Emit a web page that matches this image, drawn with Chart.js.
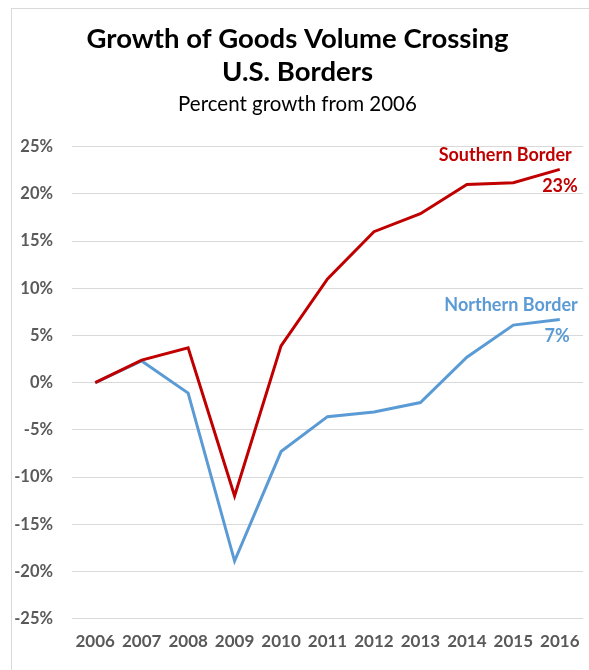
<!DOCTYPE html>
<html>
<head>
<meta charset="utf-8">
<script src="https://cdn.jsdelivr.net/npm/chart.js@4"></script>
<style>
  html, body { margin: 0; padding: 0; background: #fff; }
  #wrap { position: relative; width: 589px; height: 670px; overflow: hidden; }
  #frame { position: absolute; left: 11px; top: 8px; width: 700px; height: 800px; border: 1px solid #d9d9d9; }
  #popChart { position: absolute; left: 0; top: 0; }
</style>
</head>
<body>
<div id="wrap">
  <div id="frame"></div>
  <canvas id="popChart" width="589" height="670"></canvas>
</div>
<script>
// datos
var years = ["2006", "2007", "2008", "2009", "2010", "2011", "2012", "2013", "2014", "2015", "2016"];
var southern = [0, 2.4, 3.7, -12.0, 3.9, 11.0, 16.0, 17.9, 21.0, 21.2, 22.6];
var northern = [0, 2.3, -1.1, -18.9, -7.3, -3.6, -3.1, -2.1, 2.7, 6.1, 6.7];
var seriesNames = ["Southern Border", "Northern Border"];
var endLabels = ["23%", "7%"];
var titleLines = ["Growth of Goods Volume Crossing", "U.S. Borders"];
var subtitleText = "Percent growth from 2006";

var rojo = "#C00000";
var azul = "#5B9BD5";
var gris = "#595959";
var fuente = "Lato, 'Open Sans', sans-serif";

// etiquetas al final de cada linea
var etiquetasFinal = {
    id: "etiquetasFinal",
    afterDatasetsDraw: function (chart) {
        var ctx = chart.ctx;
        ctx.save();
        ctx.textAlign = "right";
        ctx.textBaseline = "middle";
        ctx.font = "bold 18px " + fuente;
        chart.data.datasets.forEach(function (ds, i) {
            var meta = chart.getDatasetMeta(i);
            var last = meta.data[meta.data.length - 1];
            ctx.fillStyle = ds.borderColor;
            ctx.fillText(seriesNames[i], last.x + (i === 0 ? 12 : 18), last.y - 14);
            ctx.fillText(endLabels[i], last.x + (i === 0 ? 18 : 10), last.y + 17);
        });
        ctx.restore();
    }
};

var densityCanvas = document.getElementById("popChart");
var lineChart = new Chart(densityCanvas, {
    type: 'line',
    data: {
        labels: years,
        datasets: [{
            label: seriesNames[0],
            data: southern,
            borderColor: rojo,
            backgroundColor: rojo,
            borderWidth: 3,
            pointRadius: 0,
            tension: 0
        }, {
            label: seriesNames[1],
            data: northern,
            borderColor: azul,
            backgroundColor: azul,
            borderWidth: 3,
            pointRadius: 0,
            tension: 0
        }]
    },
    options: {
        responsive: false,
        animation: false,
        layout: {
            padding: { top: 12, left: 12, right: 6, bottom: 13 }
        },
        plugins: {
            legend: { display: false },
            tooltip: { enabled: false },
            title: {
                display: true,
                text: titleLines,
                color: "#000",
                font: { family: fuente, size: 27.5, weight: 'bold', lineHeight: 1.2 },
                padding: { top: 10.5, bottom: 3.7 }
            },
            subtitle: {
                display: true,
                text: subtitleText,
                color: "#000",
                font: { family: fuente, size: 20.5, weight: 'normal', lineHeight: 1.15 },
                padding: { top: 0, bottom: 31 }
            }
        },
        scales: {
            x: {
                offset: true,
                grid: { display: false },
                border: { display: false },
                ticks: {
                    color: gris,
                    font: { family: fuente, size: 17, weight: 'bold' },
                    padding: 5,
                    maxRotation: 0,
                    autoSkip: false
                }
            },
            y: {
                min: -25,
                max: 25,
                afterFit: function (scale) { scale.width = 60; },
                grid: { color: "#d9d9d9", lineWidth: 1, drawTicks: false },
                border: { display: false },
                ticks: {
                    stepSize: 5,
                    color: gris,
                    font: { family: fuente, size: 16.5, weight: 'bold' },
                    padding: 19,
                    callback: function (v) { return v + "%"; }
                }
            }
        }
    },
    plugins: [etiquetasFinal]
});
</script>
</body>
</html>
